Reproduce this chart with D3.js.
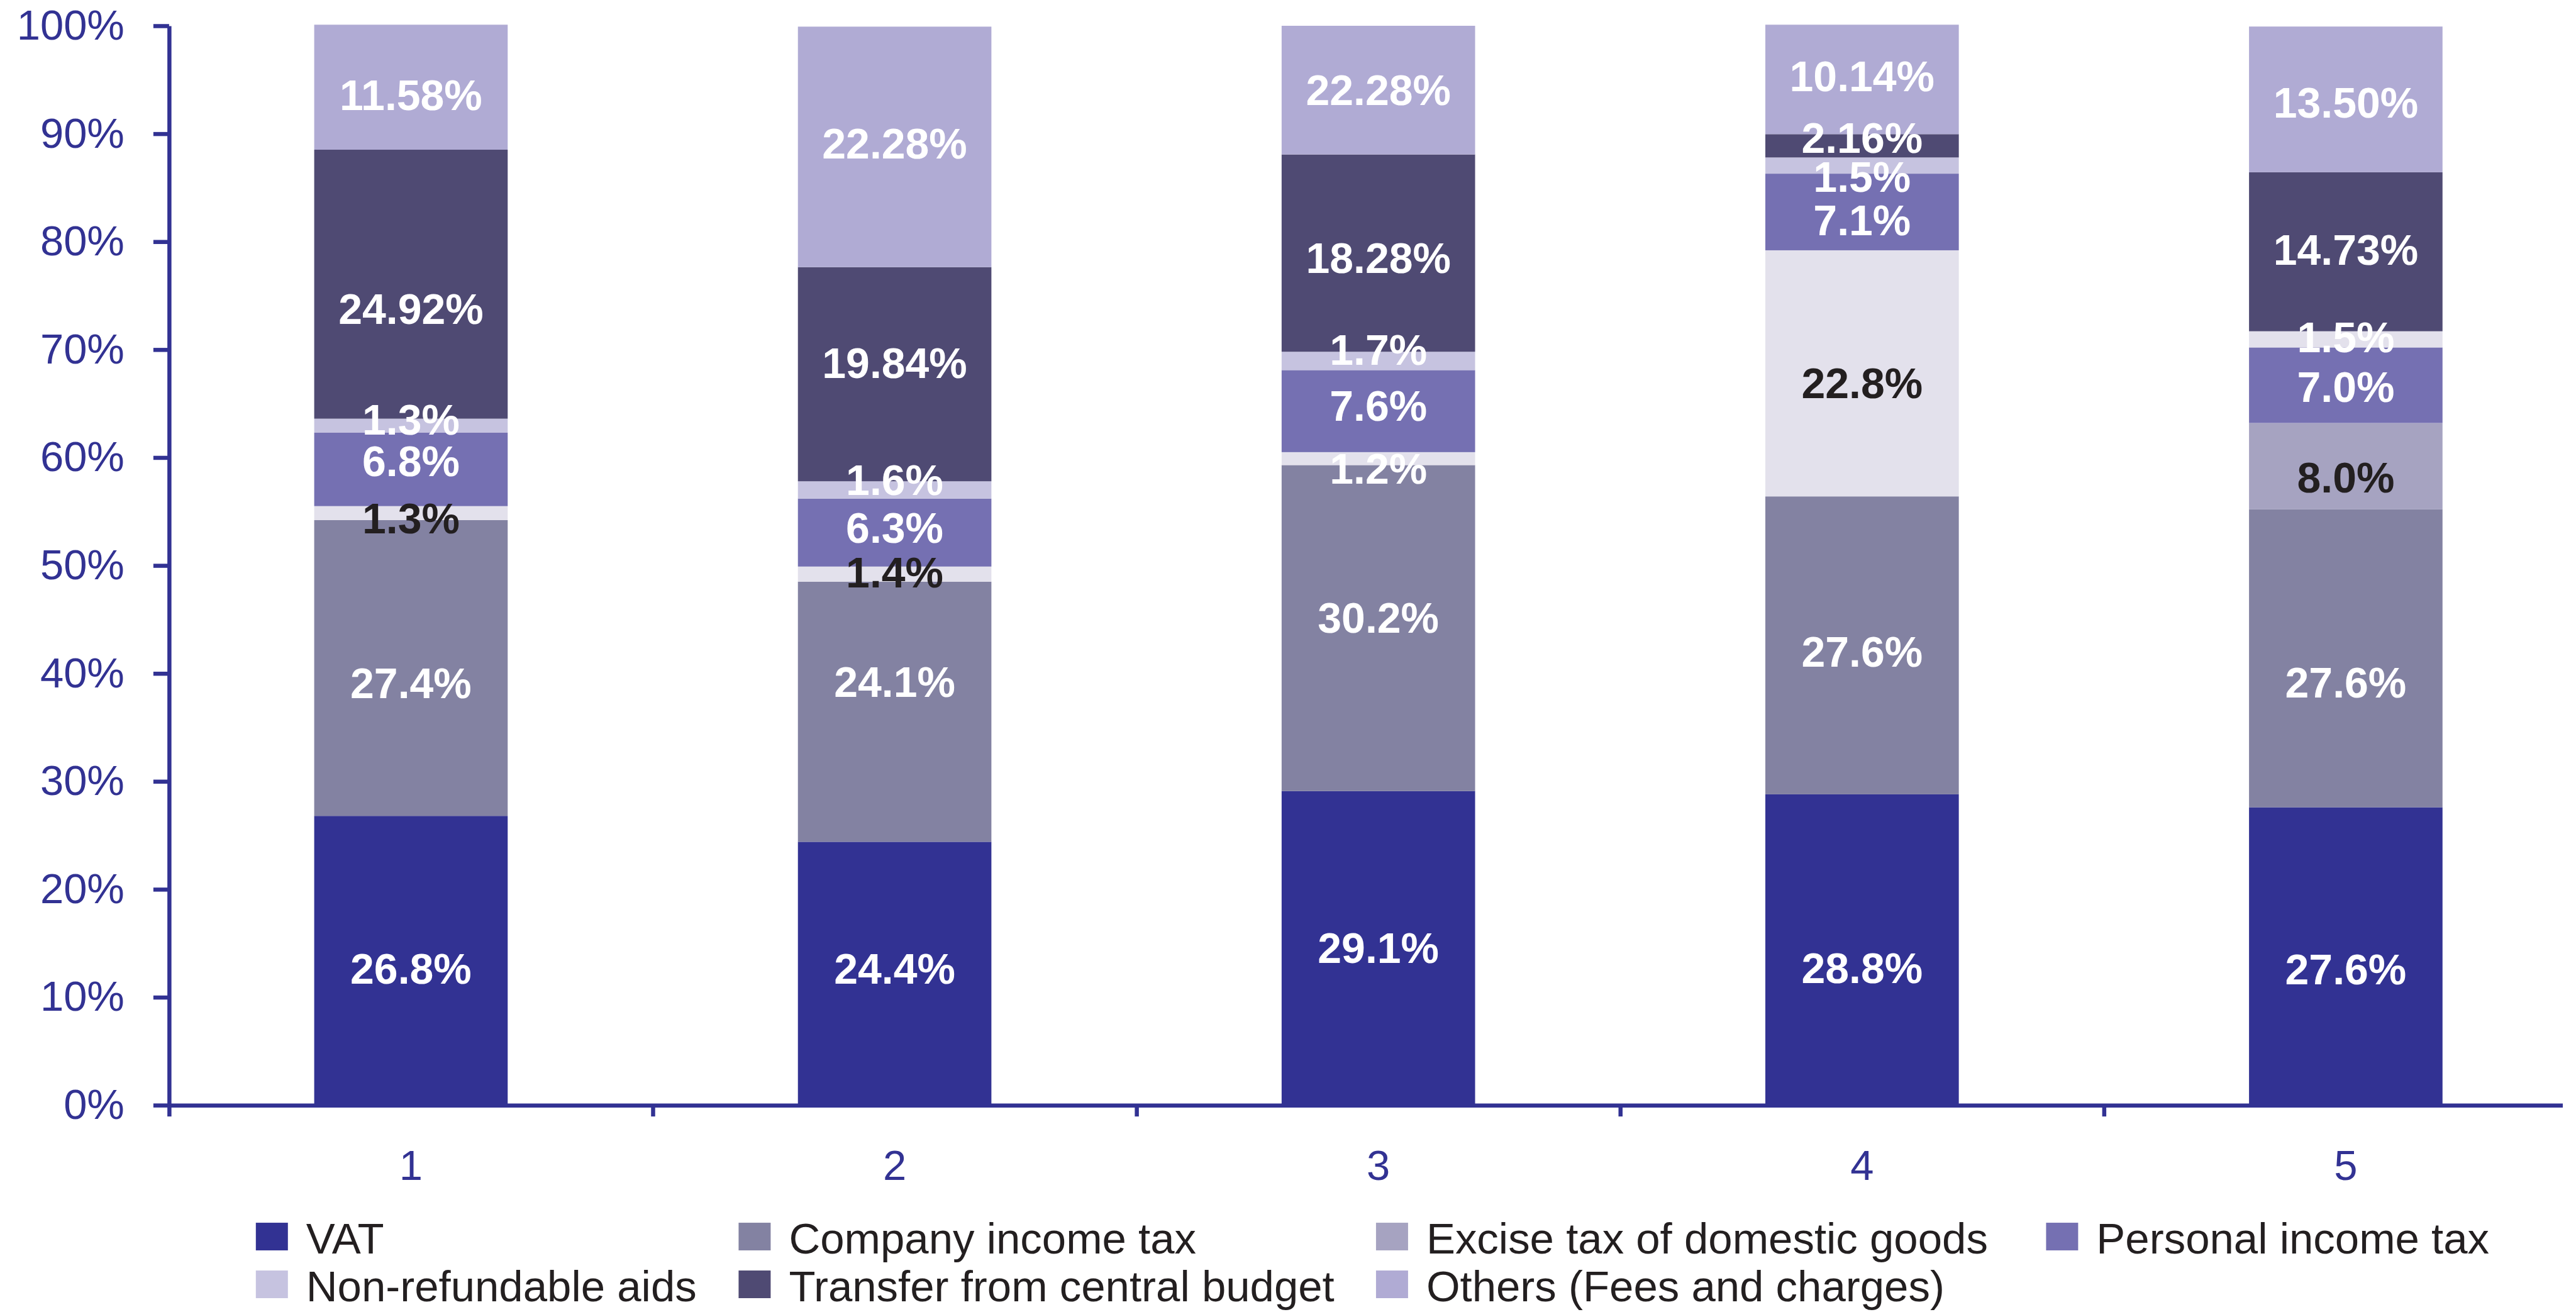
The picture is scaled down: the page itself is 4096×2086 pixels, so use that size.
<!DOCTYPE html>
<html>
<head>
<meta charset="utf-8">
<script src="https://cdn.jsdelivr.net/npm/d3@7"></script>
<style>
  body { margin: 0; background: #ffffff; }
  svg { display: block; }
  text { font-family: "Liberation Sans", Arial, sans-serif; }
</style>
</head>
<body>
<div id="chart"></div>
<script>
// stacked 100% bars of revenue sources, five bars

// x axis categories
var categories = ["1", "2", "3", "4", "5"];

// series values in percent, stacked from the bottom up
var vat = [26.8, 24.4, 29.1, 28.8, 27.6];
var companyTax = [27.4, 24.1, 30.2, 27.6, 27.6];
var exciseTax = [1.3, 1.4, 1.2, 22.8, 8.0];
var personalTax = [6.8, 6.3, 7.6, 7.1, 7.0];
var nonRefundable = [1.3, 1.6, 1.7, 1.5, 1.5];
var transfer = [24.92, 19.84, 18.28, 2.16, 14.73];
var others = [11.58, 22.28, 11.92, 10.14, 13.50];

// the source prints 22.28% on the third "others" block
var othersLabels = ["11.58%", "22.28%", "22.28%", "10.14%", "13.50%"];

// legend names, same order as the stack
var seriesNames = [
  "VAT",
  "Company income tax",
  "Excise tax of domestic goods",
  "Personal income tax",
  "Non-refundable aids",
  "Transfer from central budget",
  "Others (Fees and charges)"
];
var seriesKeys = ["vat", "company", "excise", "personal", "nonref", "transfer", "others"];

// y axis tick values
var yTicks = [0, 10, 20, 30, 40, 50, 60, 70, 80, 90, 100];

// ---- styles ----
var seriesColors = {
  vat: "#323293",
  company: "#8382a2",
  excise: "#a6a3c1",
  personal: "#7570b2",
  nonref: "#c6c3e0",
  transfer: "#4f4a73",
  others: "#b0abd4"
};
// single blocks that the source painted in another colour
var paleFill = "#e3e1ec";
var pointFills = {
  excise: [paleFill, paleFill, paleFill, paleFill, null],
  nonref: [null, null, null, null, paleFill]
};
// label colours: white, except these dark ones
var darkLabels = {
  excise: [true, true, false, true, true]
};
// hand-moved labels in the source (vertical shift, px)
var labelShift = {
  vat: [13, -8, 0, 29, 21],
  company: [24, -47, -16, 10, 39],
  excise: [8, -3, 16, 16, 18],
  personal: [-13, -8, -8, 13, 3],
  nonref: [-10, -16, -18, 18, -3],
  transfer: [39, -18, 8, -13, -3],
  others: [13, -5, 0, -5, 5]
};
var axisColor = "#323293";

// build the table the stack layout needs
var tableData = categories.map(function(c, i) {
  return {
    cat: c,
    vat: vat[i],
    company: companyTax[i],
    excise: exciseTax[i],
    personal: personalTax[i],
    nonref: nonRefundable[i],
    transfer: transfer[i],
    others: others[i]
  };
});

var printed = {
  vat: vat.map(d => d.toFixed(1) + "%"),
  company: companyTax.map(d => d.toFixed(1) + "%"),
  excise: exciseTax.map(d => d.toFixed(1) + "%"),
  personal: personalTax.map(d => d.toFixed(1) + "%"),
  nonref: nonRefundable.map(d => d.toFixed(1) + "%"),
  transfer: transfer.map(d => d.toFixed(2) + "%"),
  others: othersLabels
};

// SVG area, drawn in the reference's own pixel grid
var svgWidth = 4096;
var svgHeight = 2086;
var refWidth = 4098;
var refHeight = 2087;

var svg = d3.select("#chart")
  .append("svg")
  .attr("width", svgWidth)
  .attr("height", svgHeight)
  .attr("viewBox", `0 0 ${refWidth} ${refHeight}`);

var plotLeft = 269;
var plotTop = 41;
var plotBottom = 1758;
var bandStep = 769.5;
var axisEnd = 4077;

// scales
var yscale = d3.scaleLinear()
  .domain([0, 100])
  .range([plotBottom, plotTop]);

var xscale = d3.scaleBand()
  .domain(categories)
  .range([plotLeft, plotLeft + bandStep * categories.length])
  .paddingInner(0.6)
  .paddingOuter(0.3);

// boundary ticks between the bars
var xBounds = d3.scaleLinear()
  .domain([0, categories.length])
  .range([plotLeft, plotLeft + bandStep * categories.length]);

var stackData = d3.stack().keys(seriesKeys)(tableData);

// bars
var layers = svg.append("g")
  .selectAll("g")
  .data(stackData)
  .enter()
  .append("g");

layers.selectAll("rect")
  .data(d => d.map(function(p, i) { p.key = d.key; p.i = i; return p; }))
  .enter()
  .append("rect")
  .attr("x", d => xscale(d.data.cat))
  .attr("y", d => yscale(d[1]))
  .attr("width", xscale.bandwidth())
  .attr("height", d => yscale(d[0]) - yscale(d[1]))
  .attr("fill", function(d) {
    var over = pointFills[d.key];
    if (over && over[d.i]) { return over[d.i]; }
    return seriesColors[d.key];
  });

// data labels, drawn after all bars so thin blocks stay readable
var labelGroup = svg.append("g");
stackData.forEach(function(layer) {
  layer.forEach(function(p, i) {
    if (p[1] - p[0] <= 0) { return; }
    var dark = darkLabels[layer.key] && darkLabels[layer.key][i];
    labelGroup.append("text")
      .attr("x", xscale(p.data.cat) + xscale.bandwidth() / 2)
      .attr("y", (yscale(p[0]) + yscale(p[1])) / 2 + labelShift[layer.key][i])
      .attr("dy", "0.35em")
      .attr("text-anchor", "middle")
      .attr("font-size", 68)
      .attr("font-weight", "bold")
      .attr("fill", dark ? "#231f20" : "#ffffff")
      .text(printed[layer.key][i]);
  });
});

// y axis
var leftAxis = d3.axisLeft(yscale)
  .tickValues(yTicks)
  .tickFormat(d => d + "%")
  .tickSize(25)
  .tickSizeOuter(0)
  .tickPadding(46);

var y_axis = svg.append("g")
  .attr("transform", `translate(${plotLeft}, 0)`)
  .call(leftAxis);

y_axis.selectAll("path, line")
  .attr("stroke", axisColor)
  .attr("stroke-width", 6.5);
y_axis.selectAll("text")
  .attr("font-size", 67)
  .attr("fill", axisColor);

// x axis line with the boundary ticks, cut where the source image ends
svg.append("clipPath")
  .attr("id", "xclip")
  .append("rect")
  .attr("x", 0)
  .attr("y", 0)
  .attr("width", axisEnd)
  .attr("height", refHeight);

var boundAxis = d3.axisBottom(xBounds)
  .tickValues(d3.range(0, categories.length + 1))
  .tickFormat("")
  .tickSize(18)
  .tickSizeOuter(0);

var x_axis = svg.append("g")
  .attr("clip-path", "url(#xclip)")
  .append("g")
  .attr("transform", `translate(0, ${plotBottom})`)
  .call(boundAxis);

x_axis.selectAll("path, line")
  .attr("stroke", axisColor)
  .attr("stroke-width", 6.5);

// category labels under the bars
var labelAxis = d3.axisBottom(xscale)
  .tickSize(0)
  .tickPadding(71);

var x_labels = svg.append("g")
  .attr("transform", `translate(0, ${plotBottom})`)
  .call(labelAxis);

x_labels.select(".domain").remove();
x_labels.selectAll("text")
  .attr("font-size", 67)
  .attr("fill", axisColor);

// legend, four columns and two rows
var legendCols = [407, 1175, 2189, 3255];
var legendRows = [1945, 2021];

var legend = svg.append("g")
  .selectAll("g")
  .data(seriesKeys)
  .enter()
  .append("g")
  .attr("transform", (d, i) => `translate(${legendCols[i % 4]}, ${legendRows[Math.floor(i / 4)]})`);

legend.append("rect")
  .attr("width", 51)
  .attr("height", 44)
  .attr("fill", d => seriesColors[d]);

legend.append("text")
  .attr("x", 80)
  .attr("y", 49)
  .attr("font-size", 69)
  .attr("fill", "#231f20")
  .text((d, i) => seriesNames[i]);
</script>
</body>
</html>
